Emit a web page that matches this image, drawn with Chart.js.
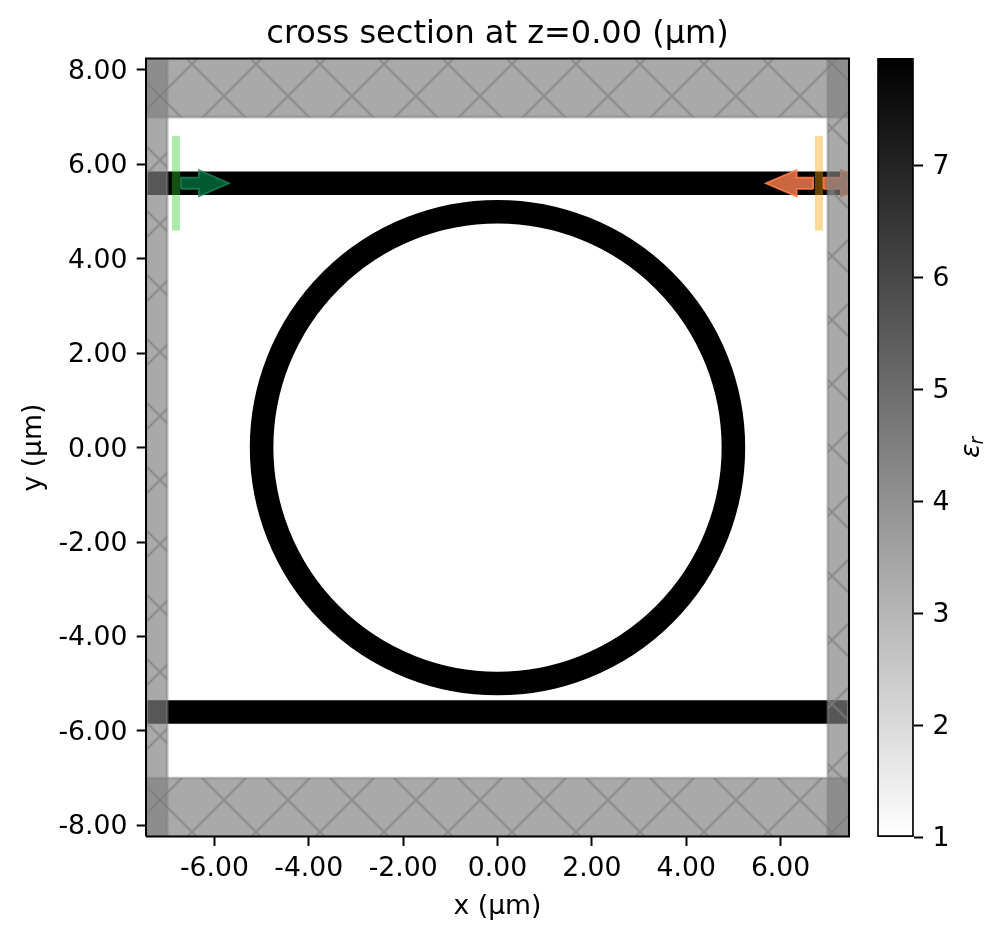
<!DOCTYPE html>
<html>
<head>
<meta charset="utf-8">
<style>
html,body{margin:0;padding:0;background:#fff;width:1005px;height:940px;overflow:hidden}
canvas{position:absolute;left:0;top:0}
</style>
<script src="https://cdn.jsdelivr.net/npm/chart.js@4"></script>
</head>
<body>
<canvas id="main" width="1005" height="940"></canvas>
<canvas id="bar" width="1005" height="940"></canvas>
<script>
// ---------- labels ----------
const titleText = 'cross section at z=0.00 (μm)';
const xAxisLabel = 'x (μm)';
const yAxisLabel = 'y (μm)';
const colorbarSymbol = 'ε';
const colorbarSubscript = 'r';

// ---------- axes ----------
const xLimits = [-7.45, 7.45];
const yLimits = [-8.24, 8.24];
const xTickValues = [-6, -4, -2, 0, 2, 4, 6];
const xTickLabels = ['-6.00', '-4.00', '-2.00', '0.00', '2.00', '4.00', '6.00'];
const yTickValues = [-8, -6, -4, -2, 0, 2, 4, 6, 8];
const yTickLabels = ['-8.00', '-6.00', '-4.00', '-2.00', '0.00', '2.00', '4.00', '6.00', '8.00'];
const colorbarLimits = [1, 7.96];
const colorbarTicks = [1, 2, 3, 4, 5, 6, 7];

// ---------- structures (µm) ----------
const ringCenterX = [0];
const ringCenterY = [0];
const ringRadius = 5;
const ringWidth = 0.5;
const wgTopX = [-7.42, 7.42, 7.42, -7.42, -7.42];
const wgTopY = [5.35, 5.35, 5.85, 5.85, 5.35];
const wgBottomX = [-7.42, 7.42, 7.42, -7.42, -7.42];
const wgBottomY = [-5.85, -5.85, -5.35, -5.35, -5.85];

// ---------- source and monitor (µm) ----------
const sourceX = [-6.9, -6.73, -6.73, -6.9, -6.9];
const sourceY = [4.6, 4.6, 6.6, 6.6, 4.6];
const monitorX = [6.73, 6.9, 6.9, 6.73, 6.73];
const monitorY = [4.6, 4.6, 6.6, 6.6, 4.6];
const sourceArrowX = [-6.71, -6.33, -6.33, -5.69, -6.33, -6.33, -6.71, -6.71];
const sourceArrowY = [5.48, 5.48, 5.32, 5.6, 5.88, 5.72, 5.72, 5.48];
const monitorArrowLeftX = [6.69, 6.34, 6.34, 5.69, 6.34, 6.34, 6.69, 6.69];
const monitorArrowLeftY = [5.48, 5.48, 5.32, 5.6, 5.88, 5.72, 5.72, 5.48];
const monitorArrowRightX = [6.91, 7.28, 7.28, 7.96, 7.28, 7.28, 6.91, 6.91];
const monitorArrowRightY = [5.48, 5.48, 5.32, 5.6, 5.88, 5.72, 5.72, 5.48];

// ---------- absorbing layers (µm) ----------
const pmlTopX = [-7.42, 7.45, 7.45, -7.42, -7.42];
const pmlTopY = [7, 7, 8.24, 8.24, 7];
const pmlBottomX = [-7.42, 7.45, 7.45, -7.42, -7.42];
const pmlBottomY = [-8.24, -8.24, -7, -7, -8.24];
const pmlLeftX = [-7.45, -7, -7, -7.45, -7.45];
const pmlLeftY = [-8.24, -8.24, 8.24, 8.24, -8.24];
const pmlRightX = [7, 7.45, 7.45, 7, 7];
const pmlRightY = [-8.24, -8.24, 8.24, 8.24, -8.24];

// ---------- frame ----------
const frameX = [xLimits[0], xLimits[1], xLimits[1], xLimits[0], xLimits[0]];
const frameY = [yLimits[0], yLimits[0], yLimits[1], yLimits[1], yLimits[0]];

// ---------- helpers ----------
const FONT = '"DejaVu Sans"';
const tickFont = {family: FONT, size: 26.67};
const SPINE = 2.0, TICK_LEN = 9.3, TICK_PAD = 9.3;

function zip(xs, ys) { return xs.map((x, i) => ({x, y: ys[i]})); }

// Nudge the tick text so digits sit on their tick the way the reference does.
function nudgeLabels(scale, dy) {
  if (scale._nudged) return;
  scale._nudged = true;
  const orig = scale._computeLabelItems;
  scale._computeLabelItems = function (area) {
    const items = orig.call(this, area);
    items.forEach(it => { it.textOffset += dy; });
    return items;
  };
}

function hatchPattern() {
  const T = 64, c = document.createElement('canvas');
  c.width = c.height = T;
  const g = c.getContext('2d');
  g.strokeStyle = 'rgba(128,128,128,0.7)';
  g.lineWidth = 2.2;
  for (const d of [-T, 0, T]) {
    g.beginPath(); g.moveTo(d, 0); g.lineTo(d + T, T); g.stroke();
    g.beginPath(); g.moveTo(d, T); g.lineTo(d + T, 0); g.stroke();
  }
  return g.createPattern(c, 'repeat');
}
const hatch = hatchPattern();

function poly(xs, ys, fillColor, edgeColor, edgeWidth, extra) {
  return Object.assign({
    data: zip(xs, ys), showLine: true, fill: 'shape', tension: 0,
    backgroundColor: fillColor, borderColor: edgeColor || 'rgba(0,0,0,0)',
    borderWidth: edgeWidth || 0, pointRadius: 0, pointHoverRadius: 0
  }, extra || {});
}

const PML = 'rgba(128,128,128,0.68)';
const PML_EDGE = 'rgba(128,128,128,0.5)';
const SRC = 'rgba(50,205,50,0.4)', MON = 'rgba(255,165,0,0.4)';
const GA = 'rgba(0,128,70,0.7)', GAE = 'rgba(30,140,95,0.75)';
const OA = 'rgba(255,127,80,0.8)', OAE = 'rgba(255,125,75,0.9)';

const layers = [
  poly(wgTopX, wgTopY, '#000'),
  poly(wgBottomX, wgBottomY, '#000'),
  {
    data: zip(ringCenterX, ringCenterY), showLine: false,
    pointBackgroundColor: 'rgba(0,0,0,0)', pointBorderColor: '#000',
    pointRadius: c => c.chart.scales.x.getPixelForValue(ringRadius) - c.chart.scales.x.getPixelForValue(0),
    pointBorderWidth: c => c.chart.scales.x.getPixelForValue(ringWidth) - c.chart.scales.x.getPixelForValue(0),
    pointHoverRadius: 0
  },
  poly(sourceArrowX, sourceArrowY, GA, GAE, 1.8),
  poly(monitorArrowLeftX, monitorArrowLeftY, OA, OAE, 1.8),
  poly(monitorArrowRightX, monitorArrowRightY, OA, OAE, 1.8),
  poly(sourceX, sourceY, SRC),
  poly(monitorX, monitorY, MON),
  poly(pmlTopX, pmlTopY, PML, PML_EDGE, 2.6),
  poly(pmlTopX, pmlTopY, hatch),
  poly(pmlBottomX, pmlBottomY, PML, PML_EDGE, 2.6),
  poly(pmlBottomX, pmlBottomY, hatch),
  poly(pmlLeftX, pmlLeftY, PML, PML_EDGE, 2.6),
  poly(pmlLeftX, pmlLeftY, hatch),
  poly(pmlRightX, pmlRightY, PML, PML_EDGE, 2.6),
  poly(pmlRightX, pmlRightY, hatch),
  poly(frameX, frameY, 'rgba(0,0,0,0)', '#000', SPINE, {fill: false, clip: false})
];
layers.forEach((d, i) => { d.order = layers.length - i; });

function axis(limits, values, labels, pos, fit, titleText2, titlePad, pad) {
  return {
    type: 'linear', position: pos, min: limits[0], max: limits[1],
    afterBuildTicks: s => { s.ticks = values.map(value => ({value})); },
    afterFit: fit,
    border: {display: false},
    grid: {drawOnChartArea: false, drawTicks: true, tickLength: TICK_LEN, tickColor: '#000', tickWidth: SPINE},
    ticks: {
      color: '#000', font: tickFont, padding: pad, autoSkip: false, maxRotation: 0, minRotation: 0,
      callback: (v, i) => labels[i]
    },
    title: {display: true, text: titleText2, color: '#000', font: tickFont, padding: titlePad}
  };
}

new Chart(document.getElementById('main'), {
  type: 'scatter',
  data: {datasets: layers},
  options: {
    responsive: false, animation: false, devicePixelRatio: 1,
    events: [],
    layout: {padding: {left: 0, right: 156, top: 0, bottom: 0}},
    plugins: {
      legend: {display: false}, tooltip: {enabled: false},
      title: {
        display: true, text: titleText, color: '#000', fullSize: false,
        font: {family: FONT, size: 32, weight: 'normal'},
        padding: {top: 15.8, bottom: 4.4}
      }
    },
    scales: {
      x: axis(xLimits, xTickValues, xTickLabels, 'bottom', s => { s.height = 103.4; }, xAxisLabel, {top: 0, bottom: 17}, 7.3),
      y: axis(yLimits, yTickValues, yTickLabels, 'left', s => { s.width = 146; nudgeLabels(s, 2); }, yAxisLabel, {top: 18, bottom: 0}, TICK_PAD)
    }
  }
});

// ---------- colour bar ----------
const colorbarLabelPlugin = {
  id: 'colorbarLabel',
  afterDraw(chart) {
    const c = chart.ctx;
    c.save();
    c.translate(979.3, 458);
    c.rotate(-Math.PI / 2);
    c.fillStyle = '#000';
    c.textBaseline = 'alphabetic';
    c.font = 'italic 26.67px ' + FONT;
    c.fillText(colorbarSymbol, 0, 0);
    const w = c.measureText(colorbarSymbol).width;
    c.font = 'italic 18.7px ' + FONT;
    c.fillText(colorbarSubscript, w - 1, 4);
    c.restore();
  }
};

new Chart(document.getElementById('bar'), {
  type: 'bar',
  data: {
    labels: [''],
    datasets: [{
      data: [colorbarLimits],
      barPercentage: 1, categoryPercentage: 1,
      borderSkipped: false, borderWidth: SPINE, borderColor: '#000',
      backgroundColor: c => {
        const s = c.chart.scales.y, a = c.chart.chartArea;
        if (!a || !s) return '#808080';
        const y0 = s.getPixelForValue(colorbarLimits[0]), y1 = s.getPixelForValue(colorbarLimits[1]);
        if (!isFinite(y0) || !isFinite(y1)) return '#808080';
        const g = c.chart.ctx.createLinearGradient(0, y0, 0, y1);
        g.addColorStop(0, '#fff'); g.addColorStop(1, '#000');
        return g;
      }
    }]
  },
  plugins: [colorbarLabelPlugin],
  options: {
    responsive: false, animation: false, devicePixelRatio: 1,
    events: [],
    layout: {padding: {left: 877.2, top: 58, right: 0, bottom: 0}},
    plugins: {legend: {display: false}, tooltip: {enabled: false}, title: {display: false}},
    scales: {
      x: {
        display: true, afterFit: s => { s.height = 103; },
        border: {display: false}, grid: {display: false}, ticks: {display: false}
      },
      y: {
        type: 'linear', position: 'right', min: colorbarLimits[0], max: colorbarLimits[1],
        afterBuildTicks: s => { s.ticks = colorbarTicks.map(value => ({value})); },
        afterFit: s => { s.width = 91.2; nudgeLabels(s, 2); },
        border: {display: false},
        grid: {drawOnChartArea: false, drawTicks: true, tickLength: TICK_LEN, tickColor: '#000', tickWidth: SPINE},
        ticks: {color: '#000', font: tickFont, padding: TICK_PAD, callback: v => String(v)}
      }
    }
  }
});
</script>
</body>
</html>
